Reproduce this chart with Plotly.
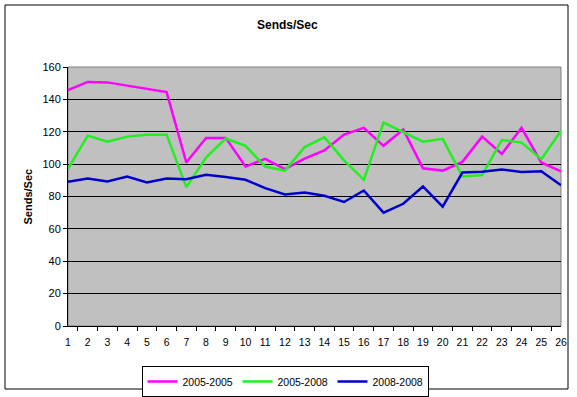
import plotly.graph_objects as go

categories = [str(i) for i in range(1, 27)]
s_2005_2005 = [145.7, 150.8, 150.5, 148.6, 146.8, 144.5, 101.0, 116.2, 116.2, 98.5,
               103.3, 96.9, 103.4, 108.4, 118.3, 122.4, 111.3, 121.4, 97.4, 96.0,
               101.4, 117.0, 106.3, 122.4, 101.0, 95.6]
s_2005_2008 = [97.1, 117.6, 113.9, 117.0, 118.2, 118.2, 85.8, 104.1, 115.8, 111.3,
               98.5, 96.0, 110.5, 116.5, 102.3, 90.3, 125.7, 119.7, 113.9, 115.6,
               92.4, 93.2, 114.9, 113.3, 103.1, 120.6]
s_2008_2008 = [89.1, 91.1, 89.3, 92.4, 88.7, 91.1, 90.7, 93.4, 92.0, 90.3,
               85.2, 81.3, 82.5, 80.5, 76.6, 83.7, 70.0, 75.5, 86.2, 73.7,
               94.8, 95.3, 96.7, 95.1, 95.6, 86.9]
series_names = ["2005-2005", "2005-2008", "2008-2008"]
series_colors = ["#FF00FF", "#22EE22", "#0000CC"]
y_ticks = [0, 20, 40, 60, 80, 100, 120, 140, 160]

W, H = 577, 397
L, R, T, B = 68, 561, 67, 326
pw, ph = R - L, B - T

def px(xp):
    return (xp - L) / pw

def py(yp):
    return (B - yp) / ph

fig = go.Figure()
for name, vals, col in zip(series_names, [s_2005_2005, s_2005_2008, s_2008_2008], series_colors):
    fig.add_trace(go.Scatter(x=categories, y=vals, mode="lines", name=name,
                             line=dict(color=col, width=2.5)))

fam = "Liberation Sans, Arial, sans-serif"
font = dict(family=fam, size=11, color="black")

fig.update_layout(
    width=W, height=H,
    margin=dict(l=L, r=W - R, t=T, b=H - B, autoexpand=False),
    paper_bgcolor="white", plot_bgcolor="#C0C0C0",
    font=font,
    showlegend=True,
    legend=dict(orientation="h", x=px(285), y=py(366), xanchor="center", yanchor="top",
                bordercolor="black", borderwidth=1, bgcolor="white",
                font=dict(family=fam, size=10.5),
                entrywidth=50, entrywidthmode="pixels", itemwidth=30, tracegroupgap=0),
    xaxis=dict(type="category", tickson="boundaries", ticks="outside", ticklen=4,
               tickcolor="black", showgrid=False, showline=True, linecolor="black",
               linewidth=1, zeroline=False, tickangle=0, ticklabelstandoff=6,
               tickfont=dict(family=fam, size=10.5, color="black")),
    yaxis=dict(range=[0, 160], tickvals=y_ticks, ticks="outside", ticklen=4,
               tickcolor="black", showgrid=True, gridcolor="black", gridwidth=1,
               showline=True, linecolor="black", linewidth=1, zeroline=False,
               tickfont=font),
    annotations=[
        dict(text="<b>Sends/Sec</b>", xref="paper", yref="paper", x=px(287), y=py(25),
             xanchor="center", yanchor="middle", showarrow=False,
             font=dict(family=fam, size=12)),
        dict(text="<b>Sends/Sec</b>", xref="paper", yref="paper", x=px(27), y=0.5,
             xanchor="center", yanchor="middle", showarrow=False, textangle=-90,
             font=dict(family=fam, size=11)),
    ],
    shapes=[
        dict(type="rect", xref="paper", yref="paper", x0=0, x1=1, y0=0, y1=1,
             line=dict(color="#808080", width=1), layer="below"),
        dict(type="rect", xref="paper", yref="paper", x0=px(5), x1=px(568),
             y0=py(389), y1=py(5), line=dict(color="black", width=1)),
    ],
)

fig.write_html("out.html", config={"displayModeBar": False},
               post_script="document.body.style.margin='0';document.body.style.overflow='hidden';")
